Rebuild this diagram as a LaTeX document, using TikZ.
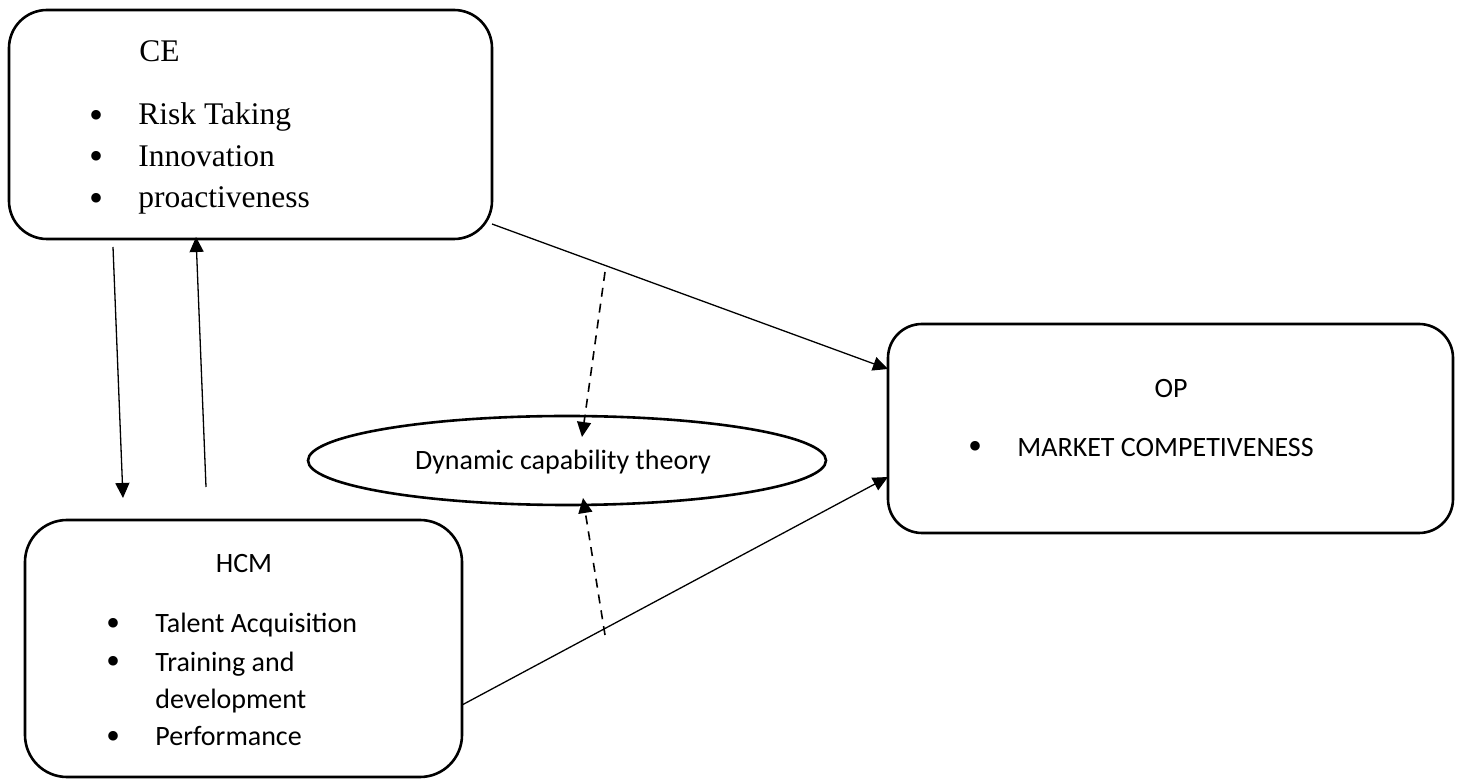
\documentclass[tikz,border=0pt]{standalone}
\usepackage{fontspec}
\setmainfont{Liberation Serif}
\newfontfamily\calfont{Carlito}
\newfontfamily\timesfont{Liberation Serif}
\usetikzlibrary{arrows.meta,calc,shapes.geometric}
\begin{document}
\begin{tikzpicture}[x=0.5pt,y=-0.5pt,
  box/.style={draw, line width=1.3pt, inner sep=0pt, outer sep=0pt},
  txtT/.style={anchor=base west, inner sep=0pt, font=\timesfont\fontsize{15.75pt}{19pt}\selectfont},
  txtC/.style={anchor=base west, inner sep=0pt, font=\calfont\fontsize{14pt}{17pt}\selectfont},
  txtCc/.style={anchor=base, inner sep=0pt, font=\calfont\fontsize{14pt}{17pt}\selectfont},
  bul/.style={anchor=base, inner sep=0pt, font=\timesfont\fontsize{20pt}{24pt}\selectfont},
  conn/.style={line width=0.65pt, -{Triangle[length=7.5pt,width=7pt]}},
  dconn/.style={line width=0.8pt, dash pattern=on 4.5pt off 3.5pt, -{Triangle[length=7.5pt,width=7pt]}}
]
\useasboundingbox (0,0) rectangle (1461,779);

% boxes
\node[box, rounded corners=19pt, minimum width=241.5pt, minimum height=114.5pt] (ce) at (250.5,124.5) {};
\node[box, rounded corners=21pt, minimum width=218.5pt, minimum height=128.5pt] (hcm) at (243.5,648.5) {};
\node[box, rounded corners=17pt, minimum width=282.5pt, minimum height=104.5pt] (op) at (1170.5,428.5) {};
\node[box, ellipse, minimum width=259pt, minimum height=44.5pt] (dct) at (567,460.5) {};

% CE texts
\node[txtT] (ceT) at (139,62) {CE};
\node[bul] (ceb1) at (97,128.5) {•};
\node[bul] (ceb2) at (97,170) {•};
\node[bul] (ceb3) at (97,211.5) {•};
\node[txtT] (ce1) at (138,125) {Risk Taking};
\node[txtT] (ce2) at (138,166.5) {Innovation};
\node[txtT] (ce3) at (138,208) {proactiveness};

% HCM texts
\node[txtCc] (hcmT) at (244,573) {HCM};
\node[bul] (hb1) at (113,636.5) {•};
\node[bul] (hb2) at (113,675) {•};
\node[bul] (hb3) at (113,749.5) {•};
\node[txtC] (h1) at (155,633) {Talent Acquisition};
\node[txtC] (h2) at (155,671.5) {Training and};
\node[txtC] (h2b) at (155,708.5) {development};
\node[txtC] (h3) at (155,746) {Performance};

% OP texts
\node[txtCc] (opT) at (1171,398) {OP};
\node[bul] (ob1) at (975,459.5) {•};
\node[txtC] (o1) at (1017,457) {MARKET COMPETIVENESS};

% ellipse text
\node[txtCc] (dctT) at (563,470) {Dynamic capability theory};

% connectors
\draw[conn] ($(ce.south west)+(104,8)$) -- ($(hcm.north west)+(98,-22)$);
\draw[conn] ($(hcm.north west)+(181,-33)$) -- ($(ce.south west)+(187,-2)$);
\draw[conn] ($(ce.south east)+(0,-15)$) -- ($(op.north west)+(0,45)$);
\draw[conn] ($(hcm.north east)+(0,185)$) -- ($(op.north west)+(0,153)$);
\draw[dconn] ($(dct.north)+(38,-144)$) -- ($(dct.north)+(15,21)$);
\draw[dconn] ($(dct.south)+(38,130)$) -- ($(dct.south)+(16,-7)$);
\end{tikzpicture}
\end{document}
